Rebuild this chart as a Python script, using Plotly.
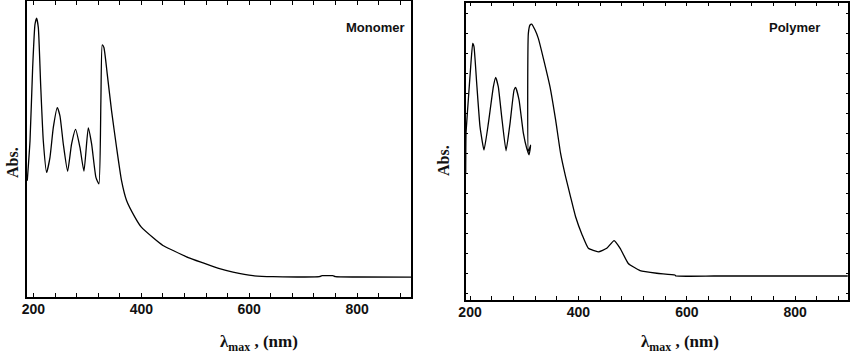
import plotly.graph_objects as go

# Monomer spectrum (wavelength nm, relative absorbance)
mono_nm = [188.5, 193.6, 198.5, 202.8, 205.9, 209.0, 213.3, 218.2, 224.4, 230.6, 236.8, 244.2,
           249.1, 255.3, 263.3, 270.7, 278.1, 286.1, 293.6, 301.6, 307.8, 315.8, 321.3, 325.0,
           327.5, 330.6, 336.8, 344.8, 354.0, 363.3, 372.6, 388.0, 400.0, 422.0, 440.0, 459.0,
           487.0, 514.5, 545.0, 570.0, 607.0, 644.0, 730.0, 735.0, 755.0, 760.0, 800.0, 900.0]
mono_abs = [0.393, 0.528, 0.775, 0.921, 0.942, 0.910, 0.719, 0.528, 0.421, 0.472, 0.573, 0.640,
            0.612, 0.517, 0.425, 0.517, 0.566, 0.506, 0.425, 0.571, 0.517, 0.404, 0.382, 0.663,
            0.852, 0.843, 0.753, 0.629, 0.506, 0.393, 0.326, 0.270, 0.236, 0.200, 0.174, 0.157,
            0.133, 0.115, 0.0955, 0.084, 0.072, 0.0685, 0.0685, 0.072, 0.072, 0.0685, 0.0675,
            0.067]

# Polymer spectrum
poly_nm = [192.0, 192.6, 196.8, 201.2, 204.9, 207.3, 212.3, 218.4, 225.8, 233.8, 243.0, 247.3,
           252.2, 258.4, 266.4, 273.8, 281.2, 284.2, 290.4, 298.4, 304.6, 308.9, 311.9, 307.6,
           307.6, 310.7, 313.8, 320.0, 326.0, 335.3, 347.6, 358.0, 367.1, 376.3, 385.5, 394.8,
           406.9, 418.3, 436.8, 452.3, 465.8, 477.0, 492.0, 513.8, 544.6, 578.0, 580.0, 650.0,
           750.0, 897.0]
poly_abs = [0.426, 0.560, 0.673, 0.785, 0.863, 0.852, 0.729, 0.583, 0.504, 0.594, 0.717, 0.749,
            0.717, 0.617, 0.502, 0.594, 0.706, 0.715, 0.673, 0.561, 0.510, 0.488, 0.521, 0.500,
            0.897, 0.925, 0.928, 0.908, 0.880, 0.813, 0.717, 0.605, 0.493, 0.415, 0.347, 0.280,
            0.219, 0.174, 0.162, 0.174, 0.200, 0.174, 0.123, 0.099, 0.090, 0.084, 0.0807, 0.0807,
            0.0807, 0.0807]

x_major = [200, 400, 600, 800]
panel_labels = ["Monomer", "Polymer"]

W, H = 850, 356
minor_vals = list(range(200, 900, 40))
minor_text = [str(v) if v in x_major else " " for v in minor_vals]

fig = go.Figure()
fig.add_trace(go.Scatter(x=mono_nm, y=mono_abs, mode="lines",
                         line=dict(color="black", width=1.3, shape="spline", smoothing=0.5),
                         xaxis="x", yaxis="y", showlegend=False))
fig.add_trace(go.Scatter(x=poly_nm, y=poly_abs, mode="lines",
                         line=dict(color="black", width=1.3, shape="spline", smoothing=0.4),
                         xaxis="x2", yaxis="y2", showlegend=False))

tickfont = dict(family="Arial", size=14, color="#111", weight="bold")
xcommon = dict(tickvals=minor_vals, ticktext=minor_text, ticks="inside", ticklen=4,
               tickcolor="black", showline=True, linecolor="black", linewidth=1.5,
               mirror="allticks", showgrid=False, zeroline=False, tickfont=tickfont,
               automargin=False, ticklabelstandoff=-2)

fig.update_layout(
    width=W, height=H, margin=dict(l=0, r=0, t=0, b=0),
    plot_bgcolor="white", paper_bgcolor="white",
    xaxis=dict(domain=[27 / W, 411 / W], range=[188, 900], anchor="y", **xcommon),
    yaxis=dict(domain=[(H - 297) / H, (H - 1) / H], range=[0, 1], anchor="x",
               showticklabels=False, ticks="", showline=True, linecolor="black",
               linewidth=1.5, mirror=True, showgrid=False, zeroline=False, automargin=False),
    xaxis2=dict(domain=[465.7 / W, 848.3 / W], range=[192, 898], anchor="y2", **xcommon),
    yaxis2=dict(domain=[(H - 300) / H, (H - 2.7) / H], range=[0, 1], anchor="x2",
                showticklabels=False, ticks="inside", ticklen=3, tickcolor="black",
                tick0=0.965, dtick=0.0673, showline=True, linecolor="black",
                linewidth=1.5, mirror="allticks", showgrid=False, zeroline=False,
                automargin=False),
)

lab_font = dict(family="Arial", size=13, color="#111", weight="bold")
fig.add_annotation(text=panel_labels[0], x=407 / W, y=1 - 27 / H, xref="paper", yref="paper",
                   xanchor="right", yanchor="middle", showarrow=False, font=lab_font)
fig.add_annotation(text=panel_labels[1], x=822 / W, y=1 - 27 / H, xref="paper", yref="paper",
                   xanchor="right", yanchor="middle", showarrow=False, font=lab_font)

title_font = dict(family="Liberation Serif, Times New Roman, serif", size=17, color="#111",
                  weight="bold")
for xc in (259 / W, 680 / W):
    fig.add_annotation(text="λ<sub>max</sub> , (nm)", x=xc, y=1 - 343 / H, xref="paper",
                       yref="paper", xanchor="center", yanchor="middle", showarrow=False,
                       font=title_font)
for xc, yc in ((13 / W, 1 - 163 / H), (443 / W, 1 - 160 / H)):
    fig.add_annotation(text="Abs.", x=xc, y=yc, xref="paper", yref="paper", textangle=-90,
                       xanchor="center", yanchor="middle", showarrow=False,
                       font=dict(family="Liberation Serif, Times New Roman, serif", size=16,
                                 color="#111", weight="bold"))

fig.write_html("out.html", config={"displayModeBar": False},
               post_script="document.body.style.margin='0';document.body.style.overflow='hidden';")
